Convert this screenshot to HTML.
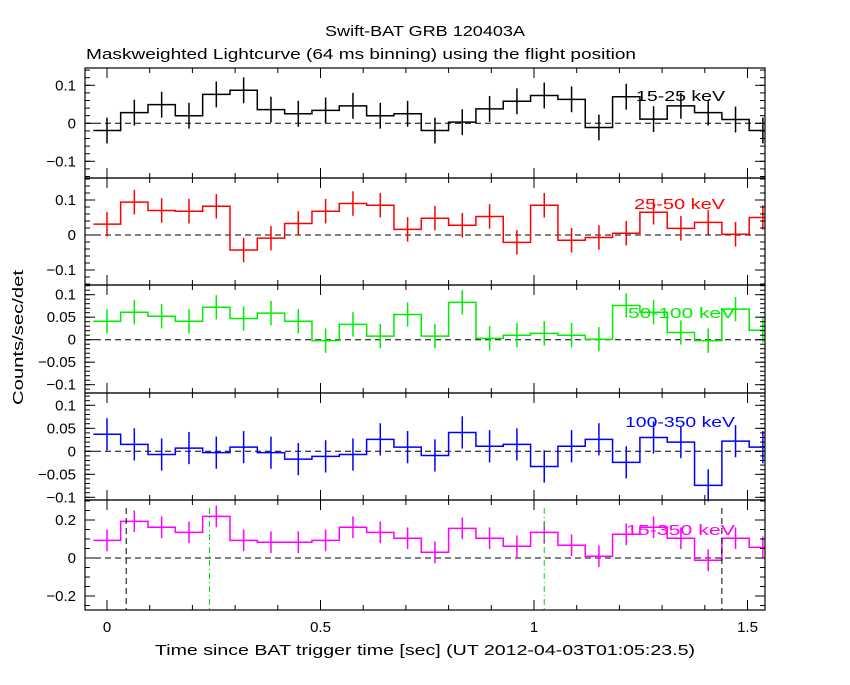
<!DOCTYPE html>
<html><head><meta charset="utf-8"><style>
html,body{margin:0;padding:0;background:#fff;}
svg text{font-family:"Liberation Sans",sans-serif;font-size:15px;}
</style></head><body>
<svg id="chart" width="850" height="680" xmlns="http://www.w3.org/2000/svg">
<rect width="850" height="680" fill="#fff"/>
<text x="325" y="36" textLength="200" lengthAdjust="spacingAndGlyphs">Swift-BAT GRB 120403A</text>
<text x="86" y="59" textLength="550" lengthAdjust="spacingAndGlyphs">Maskweighted Lightcurve (64 ms binning) using the flight position</text>
<text x="155" y="655" textLength="540" lengthAdjust="spacingAndGlyphs">Time since BAT trigger time [sec] (UT 2012-04-03T01:05:23.5)</text>
<text transform="translate(23,405) rotate(-90)" textLength="135" lengthAdjust="spacingAndGlyphs">Counts/sec/det</text>
</svg>
<script>
const times = [0,0.064,0.128,0.192,0.256,0.32,0.384,0.448,0.512,0.576,0.64,0.704,0.768,0.832,0.896,0.96,1.024,1.088,1.152,1.216,1.28,1.344,1.408,1.472,1.536];
const band1 = [-0.019,0.028,0.049,0.02,0.076,0.087,0.036,0.025,0.034,0.046,0.02,0.025,-0.019,0.003,0.038,0.058,0.073,0.063,-0.011,0.07,0.011,0.046,0.028,0.01,-0.019];
const band2 = [0.031,0.094,0.07,0.068,0.082,-0.043,-0.009,0.033,0.068,0.09,0.085,0.016,0.048,0.028,0.053,-0.021,0.085,-0.015,-0.007,0.005,0.065,0.019,0.036,0.002,0.05];
const band3 = [0.041,0.061,0.052,0.041,0.072,0.047,0.059,0.041,-0.002,0.034,0.008,0.056,0.008,0.083,0.003,0.01,0.014,0.01,0.001,0.076,0.061,0.016,-0.002,0.068,0.021];
const band4 = [0.037,0.015,-0.007,0.007,-0.003,0.009,-0.003,-0.017,-0.011,-0.007,0.026,0.009,-0.009,0.041,0.011,0.015,-0.033,0.011,0.026,-0.024,0.03,0.02,-0.074,0.022,0.009];
const band5 = [0.093,0.193,0.162,0.135,0.219,0.093,0.083,0.083,0.093,0.162,0.135,0.104,0.03,0.156,0.104,0.062,0.135,0.067,0.009,0.125,0.162,0.104,-0.012,0.104,0.056];
const errs = [0.034,0.035,0.027,0.035,0.057];
const bandLabels = ["15-25 keV","25-50 keV","50-100 keV","100-350 keV","15-350 keV"];
const xTicks = [0,0.5,1,1.5];
const xTickLabels = ["0","0.5","1","1.5"];
const vLineTimes = [0.045,0.24,1.024,1.44];

const svg = document.getElementById('chart');
const NS = 'http://www.w3.org/2000/svg';
const X0 = 85, X1 = 765;
function xs(t){ return 107 + t*427; }
const panels = [
 {top:68,bot:178,zero:123.3,scale:380,data:band1,color:'#000',ticks:[0.1,0,-0.1],minor:0.02,lab:['0.1','0','−0.1'],lx:636,lw:89,ly:101},
 {top:178,bot:285,zero:235,scale:350,data:band2,color:'#f00',ticks:[0.1,0,-0.1],minor:0.02,lab:['0.1','0','−0.1'],lx:634,lw:91,ly:209},
 {top:285,bot:393,zero:339.7,scale:450,data:band3,color:'#0e0',ticks:[0.1,0.05,0,-0.05,-0.1],minor:0.01,lab:['0.1','0.05','0','−0.05','−0.1'],lx:628,lw:107,ly:318},
 {top:393,bot:500,zero:451.3,scale:460,data:band4,color:'#00f',ticks:[0.1,0.05,0,-0.05,-0.1],minor:0.01,lab:['0.1','0.05','0','−0.05','−0.1'],lx:625,lw:110,ly:427},
 {top:500,bot:610,zero:558,scale:190,data:band5,color:'#f0f',ticks:[0.2,0,-0.2],minor:0.05,lab:['0.2','0','−0.2'],lx:626,lw:109,ly:535}
];
function el(tag, attrs, parent){
  const e = document.createElementNS(NS, tag);
  for (const k in attrs) e.setAttribute(k, attrs[k]);
  (parent||svg).appendChild(e);
  return e;
}
panels.forEach((p,i)=>{
  const g = el('g',{});
  
  
  const ys = v => p.zero - v*p.scale;
  const z = el('line',{x1:X0,x2:X1,y1:ys(0),y2:ys(0),stroke:'#000','stroke-dasharray':'6,4','stroke-width':1},g);
  
  
  let d = '';
  p.data.forEach((v,k)=>{
    const xl = Math.max(X0, xs(times[k]-0.032)), xr = Math.min(X1, xs(times[k]+0.032));
    d += (k===0?'M':'L') + xl + ',' + ys(v) + ' L' + xr + ',' + ys(v) + ' ';
  });
  const path = el('path',{d:d,fill:'none',stroke:p.color,'stroke-width':1.5},g);
  
  
  p.data.forEach((v,k)=>{
    const eb = el('line',{x1:xs(times[k]),x2:xs(times[k]),y1:ys(v-errs[i]),y2:ys(v+errs[i]),stroke:p.color,'stroke-width':1.5},g);
    
    
  });
  const t = el('text',{x:p.lx,y:p.ly,fill:p.color,textLength:p.lw,lengthAdjust:'spacingAndGlyphs'},g);
  t.textContent = bandLabels[i];
  
  
  el('rect',{x:X0,y:p.top,width:X1-X0,height:p.bot-p.top,fill:'none',stroke:'#000','stroke-width':1.2},g);
  const vmax = (p.zero-p.top)/p.scale, vmin = (p.zero-p.bot)/p.scale;
  for (let v = Math.ceil(vmin/p.minor)*p.minor; v <= vmax; v += p.minor){
    const y = ys(v);
    el('line',{x1:X0,x2:X0+5,y1:y,y2:y,stroke:'#000'},g);
    el('line',{x1:X1,x2:X1-5,y1:y,y2:y,stroke:'#000'},g);
  }
  p.ticks.forEach((v,j)=>{
    const y = ys(v);
    el('line',{x1:X0,x2:X0+10,y1:y,y2:y,stroke:'#000'},g);
    el('line',{x1:X1,x2:X1-10,y1:y,y2:y,stroke:'#000'},g);
    const tl = el('text',{x:76,y:y+5,'text-anchor':'end'},g);
    tl.textContent = p.lab[j];
    
    
  });
  for (let k=0;k<=15;k++){
    const x = xs(k*0.1); const big = k%5===0;
    el('line',{x1:x,x2:x,y1:p.top,y2:p.top+(big?10:5),stroke:'#000'},g);
    el('line',{x1:x,x2:x,y1:p.bot,y2:p.bot-(big?10:5),stroke:'#000'},g);
  }
});
const vStyles = [['#000','6,4'],['#0d0','6,3,1,3'],['#0d0','6,3,1,3'],['#000','6,4']];
vLineTimes.forEach((t,i)=>{
  const l = el('line',{x1:xs(t),x2:xs(t),y1:508,y2:610,stroke:vStyles[i][0],'stroke-dasharray':vStyles[i][1]});
  
  
});
xTicks.forEach((t,i)=>{
  const tl = el('text',{x:xs(t),y:632,'text-anchor':'middle'});
  tl.textContent = xTickLabels[i];
  
  
});
</script>
</body></html>
